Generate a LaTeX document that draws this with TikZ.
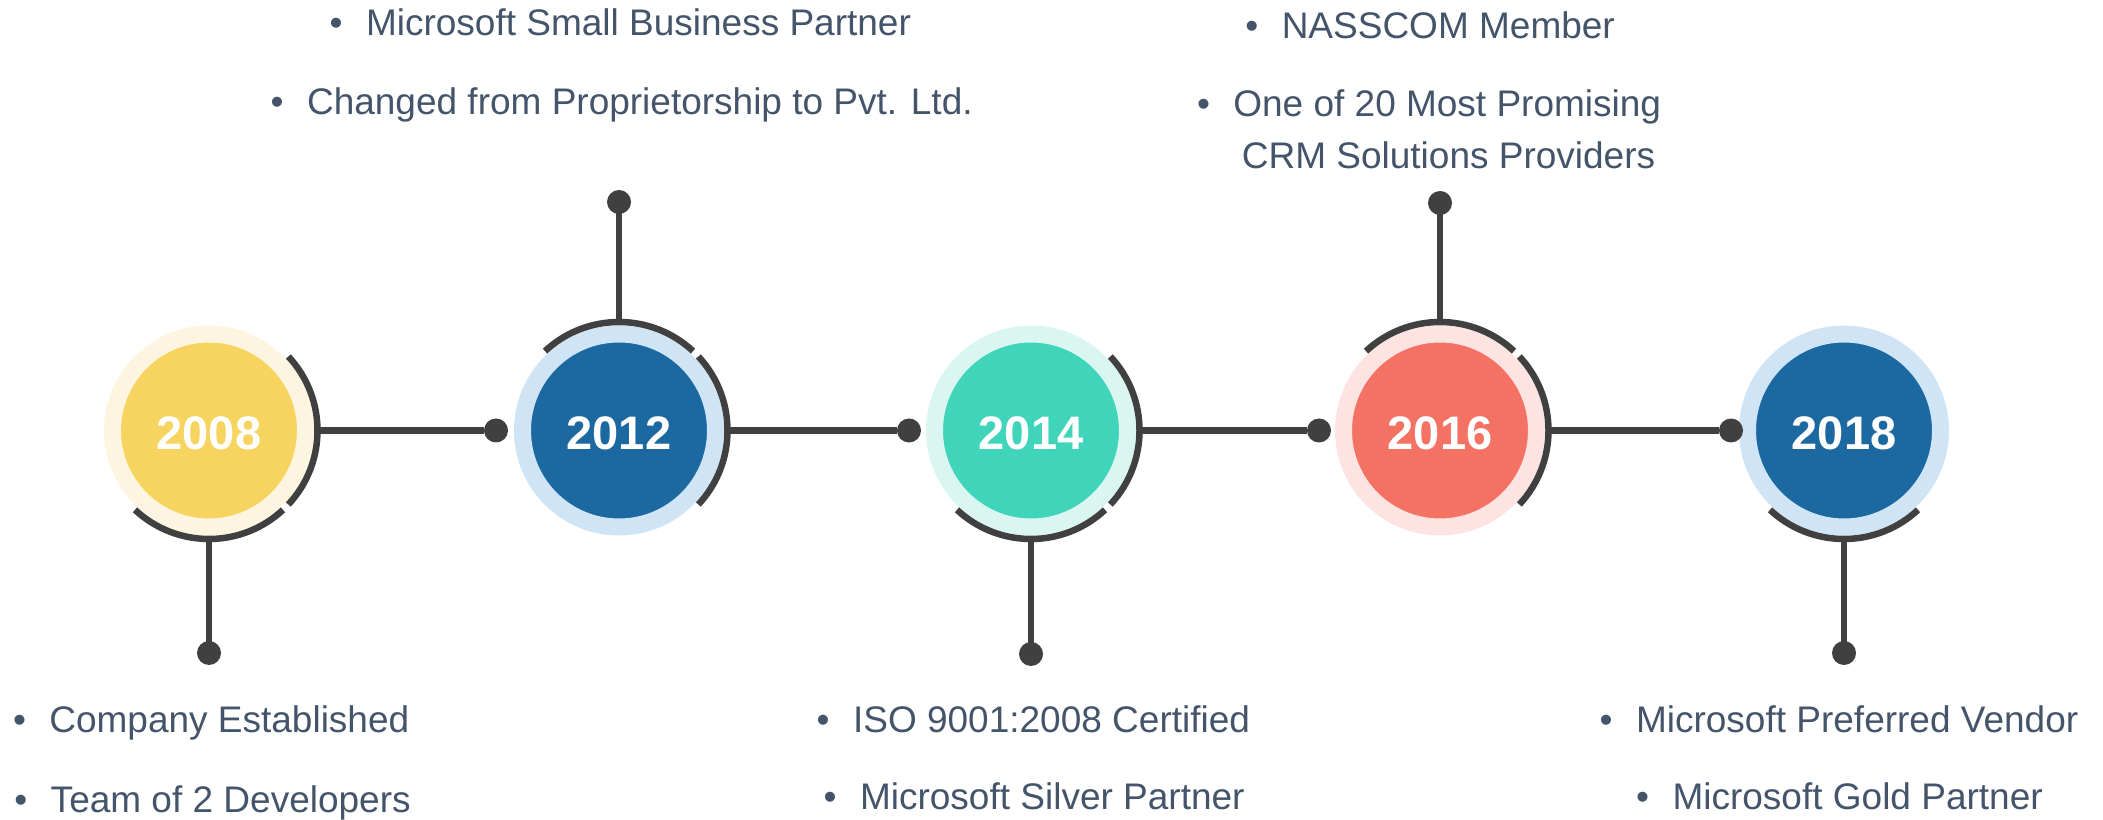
\documentclass[tikz,border=0pt]{standalone}
\usepackage{fontspec}
\setmainfont{Liberation Sans}
\usetikzlibrary{calc}
\definecolor{dk}{HTML}{404040}
\definecolor{txt}{HTML}{44546A}
\definecolor{yel}{HTML}{F7D35F}
\definecolor{yelL}{HTML}{FDF5DF}
\definecolor{blu}{HTML}{1C69A2}
\definecolor{bluL}{HTML}{CFE4F5}
\definecolor{tea}{HTML}{40D4BA}
\definecolor{teaL}{HTML}{DAF6F0}
\definecolor{cor}{HTML}{F47264}
\definecolor{corL}{HTML}{FDE4E2}
\begin{document}
\begin{tikzpicture}[x=1pt,y=1pt,
  yr/.style={circle, minimum size=193pt, inner sep=0pt, line width=17pt, text=white,
    text height=39pt, text depth=0pt,
    font=\fontsize{47}{47}\selectfont\bfseries},
  dot/.style={circle, fill=dk, minimum size=24pt, inner sep=0pt},
  conn/.style={draw=dk, line width=6.8pt},
  arcl/.style={draw=dk, line width=6.5pt},
  item/.style={anchor=base west, inner sep=0pt, text=txt, font=\fontsize{37}{44}\selectfont}]
\useasboundingbox (0,0) rectangle (2103,819);

% year circles
\node[yr, fill=yel, draw=yelL] (c1) at (209,388.5) {2008};
\node[yr, fill=blu, draw=bluL] (c2) at (619,388.5) {2012};
\node[yr, fill=tea, draw=teaL] (c3) at (1031,388.5) {2014};
\node[yr, fill=cor, draw=corL] (c4) at (1440,388.5) {2016};
\node[yr, fill=blu, draw=bluL] (c5) at (1844,388.5) {2018};

% arcs
\draw[arcl] ($(c1.center)+(43:108.5)$) arc[start angle=43, end angle=-43, radius=108.5pt];
\draw[arcl] ($(c1.center)+(-47:108.5)$) arc[start angle=-47, end angle=-133, radius=108.5pt];
\draw[arcl] ($(c2.center)+(133:108.5)$) arc[start angle=133, end angle=47, radius=108.5pt];
\draw[arcl] ($(c2.center)+(43:108.5)$) arc[start angle=43, end angle=-43, radius=108.5pt];
\draw[arcl] ($(c3.center)+(43:108.5)$) arc[start angle=43, end angle=-43, radius=108.5pt];
\draw[arcl] ($(c3.center)+(-47:108.5)$) arc[start angle=-47, end angle=-133, radius=108.5pt];
\draw[arcl] ($(c4.center)+(133:108.5)$) arc[start angle=133, end angle=47, radius=108.5pt];
\draw[arcl] ($(c4.center)+(43:108.5)$) arc[start angle=43, end angle=-43, radius=108.5pt];
\draw[arcl] ($(c5.center)+(-47:108.5)$) arc[start angle=-47, end angle=-133, radius=108.5pt];

% dots
\node[dot] (h2) at (496,388.5) {};
\node[dot] (h3) at (909,388.5) {};
\node[dot] (h4) at (1319,388.5) {};
\node[dot] (h5) at (1731,388.5) {};
\node[dot] (v1) at (209,166) {};
\node[dot] (v2) at (619,617) {};
\node[dot] (v3) at (1031,165) {};
\node[dot] (v4) at (1440,616) {};
\node[dot] (v5) at (1844,166) {};

% attachment points on arcs
\coordinate (r1) at ($(c1.center)+(111,0)$);
\coordinate (r2) at ($(c2.center)+(111,0)$);
\coordinate (r3) at ($(c3.center)+(111,0)$);
\coordinate (r4) at ($(c4.center)+(111,0)$);
\coordinate (b1) at ($(c1.center)+(0,-111)$);
\coordinate (t2) at ($(c2.center)+(0,111)$);
\coordinate (b3) at ($(c3.center)+(0,-111)$);
\coordinate (t4) at ($(c4.center)+(0,111)$);
\coordinate (b5) at ($(c5.center)+(0,-111)$);

% connectors
\draw[conn] (r1) -- (h2);
\draw[conn] (r2) -- (h3);
\draw[conn] (r3) -- (h4);
\draw[conn] (r4) -- (h5);
\draw[conn] (b1) -- (v1.center);
\draw[conn] (t2) -- (v2.center);
\draw[conn] (b3) -- (v3.center);
\draw[conn] (t4) -- (v4.center);
\draw[conn] (b5) -- (v5.center);

% texts
\node[item] (t2a) at (329.5,783) {\textbullet\hspace{23.4pt}Microsoft Small Business Partner};
\node[item] (t2b) at (270.5,704) {\textbullet\hspace{23.4pt}Changed from Proprietorship to Pvt. Ltd.};
\node[item] (t4a) at (1245.2,780) {\textbullet\hspace{23.4pt}NASSCOM Member};
\node[item] (t4b) at (1196.8,702.5) {\textbullet\hspace{23.4pt}One of 20 Most Promising};
\node[item] (t4c) at (1241.7,650) {CRM Solutions Providers};
\node[item] (t1a) at (12.8,86.3) {\textbullet\hspace{23.4pt}Company Established};
\node[item] (t1b) at (14.2,7) {\textbullet\hspace{23.4pt}Team of 2 Developers};
\node[item] (t3a) at (816.5,86.3) {\textbullet\hspace{23.4pt}ISO 9001:2008 Certified};
\node[item] (t3b) at (823.5,10) {\textbullet\hspace{23.4pt}Microsoft Silver Partner};
\node[item] (t5a) at (1599.5,86.3) {\textbullet\hspace{23.4pt}Microsoft Preferred Vendor};
\node[item] (t5b) at (1636,9.5) {\textbullet\hspace{23.4pt}Microsoft Gold Partner};
\end{tikzpicture}
\end{document}
